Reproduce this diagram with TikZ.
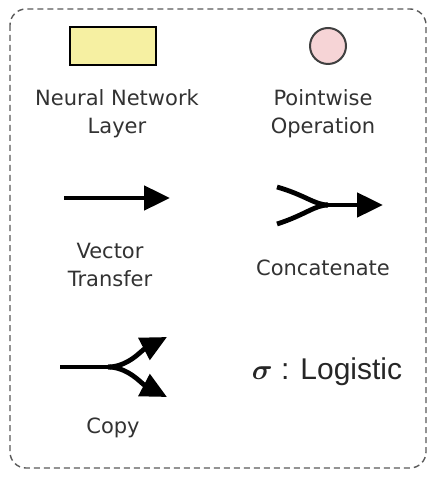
\documentclass[tikz,border=0pt]{standalone}
\usepackage{amsmath}
\usepackage{fontspec}
\setmainfont{DejaVu Sans}
\newfontfamily\arialfont{Liberation Sans}
\usetikzlibrary{arrows.meta}
\definecolor{layeryellow}{RGB}{246,240,162}
\definecolor{oppink}{RGB}{246,212,214}
\definecolor{labelgray}{RGB}{50,50,50}

\begin{document}
\begin{tikzpicture}[x=0.5pt, y=-0.5pt,
  lbl/.style={text=labelgray, font=\fontsize{10.5}{14}\selectfont, align=center},
  flow/.style={line width=2.4pt},
  tip/.style={-{Triangle[length=13pt,width=12pt]}}]
\useasboundingbox (0,0) rectangle (442,480);
% legend frame
\draw[gray!70!black, dash pattern=on 3pt off 2pt, line width=0.7pt, rounded corners=8pt] (10,9) rectangle (426,468);
% Neural network layer
\node[draw, line width=1.3pt, fill=layeryellow, minimum width=43pt, minimum height=19pt] (layer) at (113,46) {};
\node[lbl] (layerlbl) at (117,114) {Neural Network\\Layer};
% Pointwise operation
\node[draw, circle, line width=1pt, draw=black!75, fill=oppink, minimum size=18pt, inner sep=0pt] (pwop) at (328,46) {};
\node[lbl] (pwoplbl) at (323,114) {Pointwise\\Operation};
% Vector transfer
\coordinate (vtin) at (64,198);
\coordinate (vtout) at (170,198);
\draw[flow, tip] (vtin) -- (vtout);
\node[lbl] (vtlbl) at (110,265) {Vector\\Transfer};
% Concatenate
\coordinate (catup) at (277,187);
\coordinate (catdn) at (277,224);
\coordinate (catjoin) at (328,205);
\coordinate (catout) at (383,205);
\draw[flow] (catup) .. controls (305,195) and (315,205) .. (catjoin);
\draw[flow] (catdn) .. controls (305,215) and (315,205) .. (catjoin);
\draw[flow, tip] (catjoin) -- (catout);
\node[lbl] (catlbl) at (323,268) {Concatenate};
% Copy
\coordinate (cpin) at (60,367);
\coordinate (cpsplit) at (108,367);
\coordinate (cpup) at (167,337);
\coordinate (cpdn) at (167,397);
\draw[flow] (cpin) -- (cpsplit);
\draw[flow, tip] (cpsplit) .. controls (128,367) and (142,350) .. (cpup);
\draw[flow, tip] (cpsplit) .. controls (128,367) and (142,384) .. (cpdn);
\node[lbl] (cplbl) at (113,428) {Copy};
% Logistic
\node[text=black!85, font=\arialfont\fontsize{15}{18}\selectfont] (sigma) at (327,372) {$\boldsymbol{\sigma}$ : Logistic};
\end{tikzpicture}
\end{document}
